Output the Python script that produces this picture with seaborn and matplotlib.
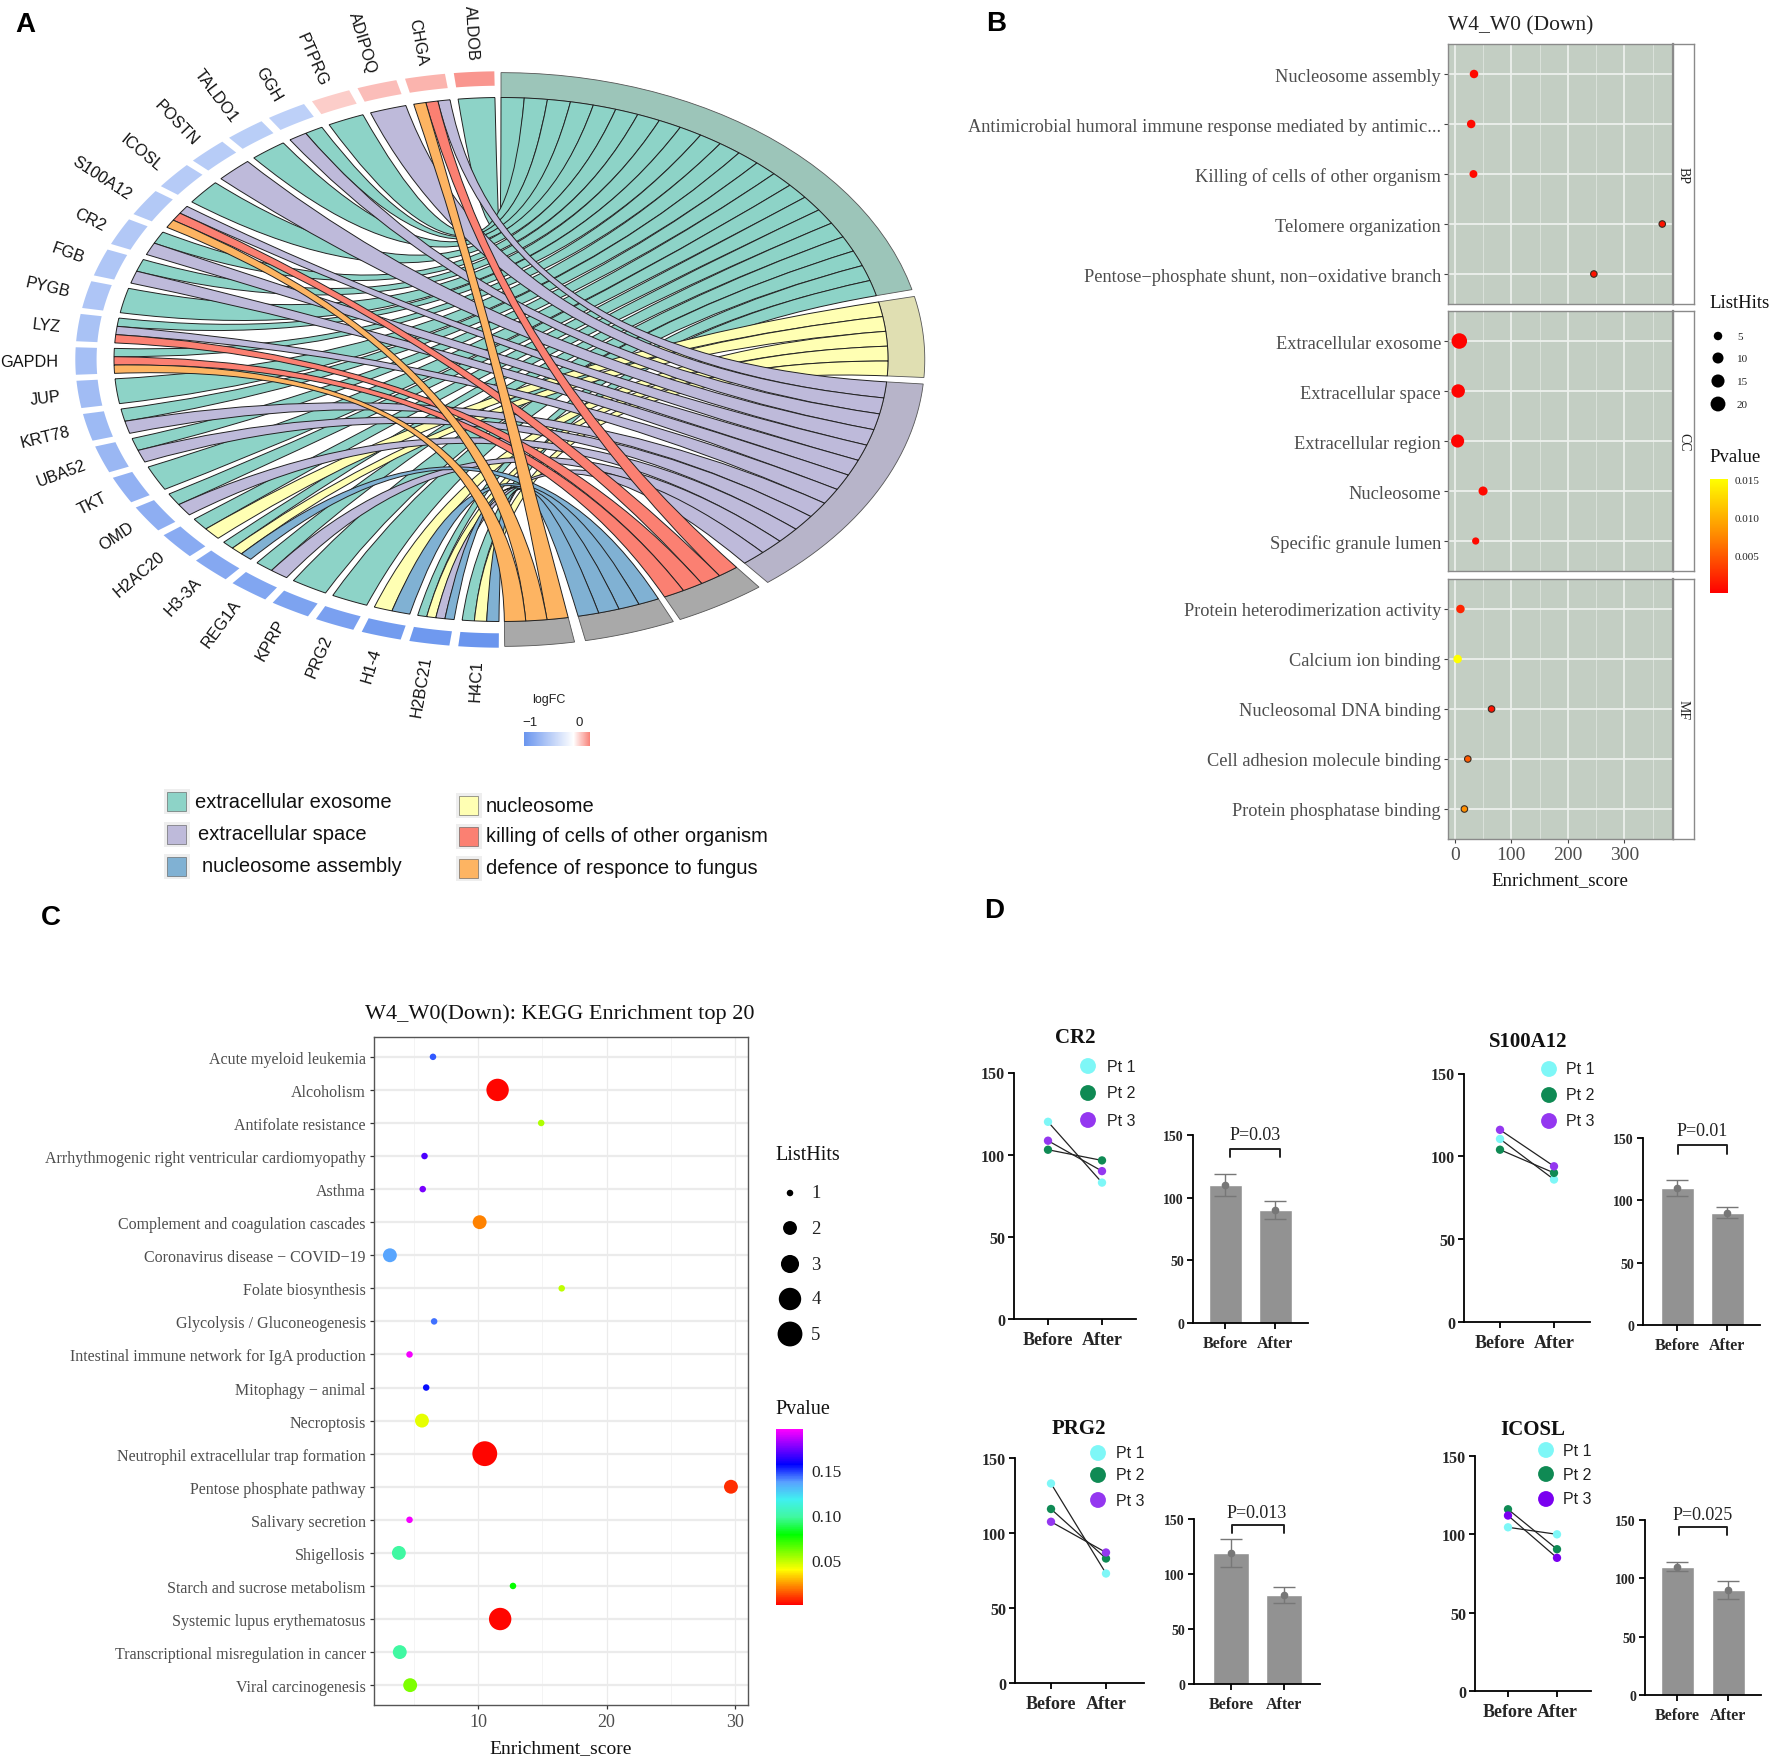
"""
Four panel enrichment figure: chord plot, GO and KEGG dot plots, before/after plots.
"""

import numpy as np
import pandas as pd
import matplotlib
matplotlib.use("Agg")
import matplotlib.pyplot as plt
import seaborn as sns
from matplotlib.cm import ScalarMappable
from matplotlib.colors import LinearSegmentedColormap, Normalize
from matplotlib.patches import PathPatch, Rectangle
from matplotlib.path import Path

W, H = 1772, 1765
SERIF = "Liberation Serif"
SANS = "Liberation Sans"

# panel A
GENES = ["ALDOB", "CHGA", "ADIPOQ", "PTPRG", "GGH", "TALDO1", "POSTN", "ICOSL", "S100A12",
         "CR2", "FGB", "PYGB", "LYZ", "GAPDH", "JUP", "KRT78", "UBA52", "TKT", "OMD",
         "H2AC20", "H3-3A", "REG1A", "KPRP", "PRG2", "H1-4", "H2BC21", "H4C1"]
GENE_LOGFC = [-0.04, -0.10, -0.12, -0.15, -0.58, -0.60, -0.61, -0.62, -0.63,
              -0.64, -0.65, -0.66, -0.68, -0.70, -0.72, -0.74, -0.76, -0.80, -0.82,
              -0.84, -0.86, -0.88, -0.90, -0.92, -0.95, -0.97, -1.00]
TERMS = ["extracellular exosome", "nucleosome", "extracellular space",
         "killing of cells of other organism", "nucleosome assembly",
         "defence of responce to fungus"]
TERM_COLORS = ["#8dd3c7", "#ffffb3", "#bebada", "#fb8072", "#80b1d3", "#fdb462"]
TERM_RING = ["#9cc5b9", "#e0dfb2", "#b7b4c9", "#a9a9a9", "#a9a9a9", "#a9a9a9"]
# ring sectors in degrees, the picture's ring is not strictly proportional
TERM_ARCS = [(90, 14.1), (12.7, -3.6), (-4.9, -51), (-52.5, -65), (-66, -78.5), (-80, -89.5)]
EXOSOME = ["ALDOB", "PTPRG", "GGH", "TALDO1", "ICOSL", "CR2", "FGB", "PYGB", "LYZ", "GAPDH",
           "JUP", "KRT78", "UBA52", "TKT", "OMD", "H2AC20", "H3-3A", "REG1A", "KPRP", "PRG2",
           "H2BC21", "H4C1"]
NUCLEOSOME = ["H2AC20", "H3-3A", "H1-4", "H2BC21", "H4C1"]
SPACE = ["CHGA", "ADIPOQ", "GGH", "POSTN", "S100A12", "CR2", "FGB", "LYZ", "KRT78", "UBA52",
         "OMD", "REG1A", "H2BC21"]
KILLING = ["CHGA", "S100A12", "LYZ", "GAPDH"]
ASSEMBLY = ["H3-3A", "H1-4", "H2BC21", "H4C1"]
FUNGUS = ["CHGA", "S100A12", "GAPDH"]
TERM_MEMBERS = [EXOSOME, NUCLEOSOME, SPACE, KILLING, ASSEMBLY, FUNGUS]

# panel B
GO_BP = ["Nucleosome assembly", "Antimicrobial humoral immune response mediated by antimic...",
         "Killing of cells of other organism", "Telomere organization",
         "Pentose\u2212phosphate shunt, non\u2212oxidative branch"]
GO_BP_SCORE = [34, 29, 33, 367, 246]
GO_BP_HITS = [5, 5, 4, 2, 2]
GO_BP_P = [0.0005, 0.0005, 0.0005, 0.001, 0.001]
GO_CC = ["Extracellular exosome", "Extracellular space", "Extracellular region",
         "Nucleosome", "Specific granule lumen"]
GO_CC_SCORE = [8, 6, 5, 50, 37]
GO_CC_HITS = [22, 16, 15, 6, 3]
GO_CC_P = [0.0002, 0.0002, 0.0002, 0.0005, 0.0005]
GO_MF = ["Protein heterodimerization activity", "Calcium ion binding", "Nucleosomal DNA binding",
         "Cell adhesion molecule binding", "Protein phosphatase binding"]
GO_MF_SCORE = [10, 5, 65, 23, 17]
GO_MF_HITS = [5, 5, 2, 2, 2]
GO_MF_P = [0.002, 0.015, 0.001, 0.005, 0.008]
GO_FACETS = ["BP", "CC", "MF"]

# panel C
KEGG = ["Acute myeloid leukemia", "Alcoholism", "Antifolate resistance",
        "Arrhythmogenic right ventricular cardiomyopathy", "Asthma",
        "Complement and coagulation cascades", "Coronavirus disease \u2212 COVID\u221219",
        "Folate biosynthesis", "Glycolysis / Gluconeogenesis",
        "Intestinal immune network for IgA production", "Mitophagy \u2212 animal", "Necroptosis",
        "Neutrophil extracellular trap formation", "Pentose phosphate pathway",
        "Salivary secretion", "Shigellosis", "Starch and sucrose metabolism",
        "Systemic lupus erythematosus", "Transcriptional misregulation in cancer",
        "Viral carcinogenesis"]
KEGG_SCORE = [6.46, 11.5, 14.9, 5.8, 5.66, 10.1, 3.1, 16.5, 6.55, 4.63,
              5.93, 5.6, 10.5, 29.7, 4.63, 3.8, 12.7, 11.7, 3.87, 4.68]
KEGG_HITS = [1, 4, 1, 1, 1, 2, 2, 1, 1, 1, 1, 2, 5, 2, 1, 2, 1, 4, 2, 2]
KEGG_P = [0.146, 0.001, 0.052, 0.168, 0.175, 0.02, 0.136, 0.049, 0.143, 0.194,
          0.155, 0.043, 0.001, 0.007, 0.194, 0.098, 0.078, 0.001, 0.098, 0.059]
RAINBOW = [(0.0, "#ff0000"), (0.2, "#ffff00"), (0.4, "#00ff00"), (0.5, "#40f8a0"),
           (0.6, "#40f0f0"), (0.7, "#5aa0ff"), (0.8, "#0000ff"), (0.9, "#8000ff"),
           (1.0, "#ff00ff")]

# panel D
TIMES = ["Before", "After"]
PATIENTS = ["Pt 1", "Pt 2", "Pt 3"]
PT_COLORS = ["#7ef7f7", "#0f8a54", "#9437f0"]
CR2_VALS = [[120, 83], [103, 96.5], [108.5, 90]]
S100A12_VALS = [[110.5, 86], [104, 90], [116, 94]]
PRG2_VALS = [[133, 73], [116, 83], [107.5, 87]]
ICOSL_VALS = [[104.5, 100], [116, 90.5], [112, 85]]
CR2_BAR, CR2_ERR = [110, 90], [8.5, 7]
S100A12_BAR, S100A12_ERR = [110, 90], [6.5, 4.5]
PRG2_BAR, PRG2_ERR = [119, 81], [13, 7.5]
ICOSL_BAR, ICOSL_ERR = [110, 90], [4, 8]

sns.set_theme(style="white")
plt.rcParams["font.family"] = [SERIF, "DejaVu Serif"]
plt.rcParams["axes.unicode_minus"] = False

fig = plt.figure(figsize=(W / 100, H / 100), dpi=100, facecolor="white")


def px_axes(x0, y0, x1, y1, **kw):
    return fig.add_axes([x0 / W, 1 - y1 / H, (x1 - x0) / W, (y1 - y0) / H], **kw)


overlay = px_axes(0, 0, W, H, zorder=20)
overlay.set_xlim(0, W)
overlay.set_ylim(H, 0)
overlay.axis("off")
overlay.patch.set_alpha(0)


def label(x, y, s, size=12, family=SERIF, ha="left", **kw):
    kw.setdefault("va", "center")
    overlay.text(x, y, s, fontsize=size, family=family, ha=ha, **kw)


def draw_chord():
    cx, cy, rx, ry = 501, 360.5, 387, 262
    ax = px_axes(0, 0, 960, 790)
    ax.set_xlim(-cx / rx, (960 - cx) / rx)
    ax.set_ylim((cy - 790) / ry, cy / ry)
    ax.axis("off")

    def pt(deg, r=1.0):
        t = np.deg2rad(deg)
        return r * np.cos(t), r * np.sin(t)

    def arc(a, b, r=1.0, n=30):
        return [pt(d, r) for d in np.linspace(a, b, n)]

    def band(a, b, r0, r1, **kw):
        verts = arc(a, b, r1) + arc(b, a, r0)
        ax.add_patch(plt.Polygon(verts, closed=True, **kw))

    fc_cmap = LinearSegmentedColormap.from_list(
        "fc", [(0, "#6a95ee"), (0.75, "#ffffff"), (1, "#f8837a")])
    norm = Normalize(-1, 0)

    # gene side: equal width for every gene, left half
    n_genes = len(GENES)
    pitch = 180 / n_genes
    gap = 1.2
    starts = {}
    for i, g in enumerate(GENES):
        a0 = 90.9 + i * pitch
        a1 = a0 + pitch - gap
        starts[g] = (a0, a1)
        band(a0, a1, 1.045, 1.10, fc=fc_cmap(norm(GENE_LOGFC[i])), ec="none")
        mid = (a0 + a1) / 2
        lx, ly = pt(mid, 1.145)
        ax.text(lx, ly, g, rotation=mid - 180, rotation_mode="anchor",
                ha="right", va="center", fontsize=11.7, family=SANS, color="#111111",
                clip_on=False)

    # how many terms on each gene, gives the slices of its segment
    gene_terms = {g: [t for t, m in enumerate(TERM_MEMBERS) if g in m] for g in GENES}

    for t, members in enumerate(TERM_MEMBERS):
        start, end = TERM_ARCS[t]
        per = (start - end) / len(members)
        band(start, end, 1.0, 1.095, fc=TERM_RING[t], ec="#555555", lw=0.6)
        for k, g in enumerate([x for x in GENES if x in members]):
            t0 = start - k * per
            t1 = t0 - per
            a0, a1 = starts[g]
            order = gene_terms[g].index(t)
            step = (a1 - a0) / len(gene_terms[g])
            g0 = a0 + order * step
            g1 = g0 + step
            verts = arc(g0, g1)
            codes = [Path.MOVETO] + [Path.LINETO] * (len(verts) - 1)
            verts = verts + [(0, 0), pt(t1)]
            codes = codes + [Path.CURVE3, Path.CURVE3]
            back = arc(t1, t0)[1:]
            verts = verts + back
            codes = codes + [Path.LINETO] * len(back)
            verts = verts + [(0, 0), pt(g0)]
            codes = codes + [Path.CURVE3, Path.CURVE3]
            ax.add_patch(PathPatch(Path(verts, codes), fc=TERM_COLORS[t], ec="#222222",
                                   lw=0.7, zorder=2 + t * 0.1))

    # logFC key
    cax = px_axes(524, 733, 590, 747)
    cb = fig.colorbar(ScalarMappable(norm, fc_cmap), cax=cax, orientation="horizontal")
    cb.outline.set_visible(False)
    cb.set_ticks([])
    label(549, 700, "logFC", 9, SANS, ha="center", color="#222222")
    label(530, 723, "\u22121", 9.5, SANS, ha="center", color="#222222")
    label(579, 723, "0", 9.5, SANS, ha="center", color="#222222")

    # term key
    rows = [(167, 802, 195, 0), (167, 835, 198, 2), (167, 867, 202, 4),
            (459, 806, 486, 1), (459, 837, 486, 3), (459, 869, 486, 5)]
    for sx, sy, tx, t in rows:
        overlay.add_patch(Rectangle((sx - 3, sy - 12), 26, 25, fc="#eeeeee", ec="none"))
        overlay.add_patch(Rectangle((sx, sy - 9), 19, 19, fc=TERM_COLORS[t], ec="#555555", lw=0.4))
        label(tx, sy, TERMS[t], 14.5, SANS, color="#111111")


def draw_go():
    cmap = LinearSegmentedColormap.from_list("ry", ["#ff0000", "#ff8800", "#ffff00"])
    p_norm = (0.0, 0.015)
    sizes, s_norm = (22, 125), (2, 22)
    boxes = [(45, 305), (312, 572), (580, 840)]
    groups = [(GO_BP, GO_BP_SCORE, GO_BP_HITS, GO_BP_P),
              (GO_CC, GO_CC_SCORE, GO_CC_HITS, GO_CC_P),
              (GO_MF, GO_MF_SCORE, GO_MF_HITS, GO_MF_P)]
    for i, (terms, score, hits, pv) in enumerate(groups):
        y0, y1 = boxes[i]
        ax = px_axes(1448, y0, 1673, y1)
        df = pd.DataFrame({"term": terms, "score": score, "hits": hits, "p": pv})
        big = df[df["hits"] > 2]
        small = df[df["hits"] <= 2]
        ax.set_facecolor("#c3cec3")
        sns.scatterplot(data=big, x="score", y="term", hue="p", hue_norm=p_norm, palette=cmap,
                        size="hits", sizes=sizes, size_norm=s_norm, linewidth=0, legend=False,
                        ax=ax, zorder=3)
        sns.scatterplot(data=small, x="score", y="term", hue="p", hue_norm=p_norm, palette=cmap,
                        size="hits", sizes=sizes, size_norm=s_norm, edgecolor="#3a2a20",
                        linewidth=0.8, legend=False, ax=ax, zorder=3)
        ax.set_yticks(range(len(terms)))
        ax.set_yticklabels(terms)
        ax.set_ylim(len(terms) - 0.4, -0.6)
        ax.set_xlim(-12, 386)
        ax.set_xticks([0, 100, 200, 300])
        ax.set_xticks([50, 150, 250, 350], minor=True)
        ax.set_axisbelow(True)
        ax.grid(True, which="major", color="#ecf0ec", lw=1.3)
        ax.grid(True, which="minor", axis="x", color="#dfe5df", lw=0.6)
        ax.set_xlabel("")
        ax.set_ylabel("")
        ax.tick_params(axis="y", left=True, length=3, width=0.8, color="#444444", pad=2,
                       labelsize=13.2, labelcolor="#4d4d4d")
        ax.tick_params(axis="x", which="major", bottom=i == 2, labelbottom=i == 2, length=3,
                       width=0.8, color="#444444", pad=2, labelsize=14, labelcolor="#4d4d4d")
        ax.tick_params(axis="x", which="minor", bottom=False)
        for s in ax.spines.values():
            s.set_color("#8a8a8a")
            s.set_linewidth(1.0)
        ax.spines["right"].set_linewidth(1.6)
        strip = px_axes(1673, y0, 1694, y1)
        strip.set_xticks([])
        strip.set_yticks([])
        strip.set_facecolor("white")
        for s in strip.spines.values():
            s.set_color("#8a8a8a")
            s.set_linewidth(1.0)
        strip.text(0.5, 0.5, GO_FACETS[i], rotation=-90, ha="center", va="center",
                   transform=strip.transAxes, fontsize=10, color="#222222")

    label(1448, 26, "W4_W0 (Down)", 15.5, color="#222222")
    label(1560, 881, "Enrichment_score", 13.5, ha="center", color="#111111")
    label(1709, 303, "ListHits", 13.5, color="#111111")
    levels = pd.DataFrame({"x": [1718] * 4, "y": [337, 359, 382, 405], "hits": [5, 10, 15, 20]})
    sns.scatterplot(data=levels, x="x", y="y", size="hits", sizes=sizes, size_norm=s_norm,
                    color="black", linewidth=0, legend=False, ax=overlay)
    for y, h in zip(levels["y"], levels["hits"]):
        label(1737, y, str(h), 8, color="#222222")
    label(1709, 457, "Pvalue", 13.5, color="#111111")
    cax = px_axes(1710, 480, 1728, 594)
    cb = fig.colorbar(ScalarMappable(Normalize(*p_norm), cmap), cax=cax)
    cb.outline.set_visible(False)
    cb.set_ticks([0.005, 0.010, 0.015], labels=["0.005", "0.010", "0.015"])
    cb.ax.tick_params(length=0, labelsize=8, pad=5, labelcolor="#222222")


def draw_kegg():
    cmap = LinearSegmentedColormap.from_list("rb", RAINBOW)
    p_norm = (0.0, 0.196)
    sizes = {1: 22, 2: 100, 3: 170, 4: 260, 5: 320}
    df = pd.DataFrame({"term": KEGG, "score": KEGG_SCORE, "hits": KEGG_HITS, "p": KEGG_P})
    ax = px_axes(374, 1038, 748, 1706)
    sns.scatterplot(data=df, x="score", y="term", hue="p", hue_norm=p_norm, palette=cmap,
                    size="hits", sizes=sizes, linewidth=0, legend=False, ax=ax, zorder=3)
    ax.set_yticks(range(len(KEGG)))
    ax.set_yticklabels(KEGG)
    ax.set_ylim(len(KEGG) - 0.4, -0.6)
    ax.set_xlim(1.86, 31.03)
    ax.set_xticks([10, 20, 30])
    ax.set_xticks([5, 15, 25], minor=True)
    ax.set_axisbelow(True)
    ax.grid(True, which="major", axis="y", color="#ebebeb", lw=1.6)
    ax.grid(True, which="major", axis="x", color="#ebebeb", lw=0.9)
    ax.grid(True, which="minor", axis="x", color="#f2f2f2", lw=0.6)
    ax.set_xlabel("")
    ax.set_ylabel("")
    ax.tick_params(axis="y", left=True, length=3, width=0.9, color="#333333", pad=3,
                   labelsize=11.5, labelcolor="#4d4d4d")
    ax.tick_params(axis="x", which="major", bottom=True, length=3, width=0.9, color="#333333",
                   pad=3, labelsize=13, labelcolor="#4d4d4d")
    ax.tick_params(axis="x", which="minor", bottom=False)
    for s in ax.spines.values():
        s.set_color("#555555")
        s.set_linewidth(1.0)

    label(560, 1014, "W4_W0(Down): KEGG Enrichment top 20", 16, ha="center", color="#111111")
    label(561, 1749, "Enrichment_score", 14, ha="center", color="#111111")
    label(775, 1155, "ListHits", 14.5, color="#111111")
    levels = pd.DataFrame({"x": [790] * 5, "y": [1194, 1229, 1265, 1300, 1335], "hits": [1, 2, 3, 4, 5]})
    sns.scatterplot(data=levels, x="x", y="y", size="hits", sizes=sizes, color="black",
                    linewidth=0, legend=False, ax=overlay)
    for y, h in zip(levels["y"], levels["hits"]):
        label(816, y, str(h), 13.5, ha="center", color="#222222")
    label(775, 1409, "Pvalue", 14.5, color="#111111")
    cax = px_axes(776, 1430, 803, 1606)
    cb = fig.colorbar(ScalarMappable(Normalize(*p_norm), cmap), cax=cax)
    cb.outline.set_visible(False)
    cb.set_ticks([0.05, 0.10, 0.15], labels=["0.05", "0.10", "0.15"])
    cb.ax.tick_params(length=5, width=0.7, color="white", direction="in", labelsize=12.5, pad=6,
                      labelcolor="#222222")


def style_pair_axis(ax, labelsize, timesize):
    ax.set_ylim(0, 150)
    ax.set_yticks([0, 50, 100, 150])
    ax.set_xlabel("")
    ax.set_ylabel("")
    sns.despine(ax=ax)
    ax.set_facecolor("none")
    for side in ("left", "bottom"):
        ax.spines[side].set_color("black")
        ax.spines[side].set_linewidth(1.3)
    ax.tick_params(axis="y", left=True, length=4.5, width=1.3, color="black", pad=2)
    ax.tick_params(axis="x", bottom=True, length=4.5, width=1.3, color="black", pad=4)
    for t in ax.get_yticklabels():
        t.set_fontsize(labelsize)
        t.set_fontweight("bold")
    ax.set_xticks([0, 1])
    ax.set_xticklabels(TIMES, fontsize=timesize, fontweight="bold")


def pair_panel(gene, vals, box, centers, title, key, colors=PT_COLORS):
    x0, y150, x1, y0 = box
    ax = px_axes(x0, y150, x1, y0)
    rows = [(p, i, vals[k][i]) for k, p in enumerate(PATIENTS) for i in range(2)]
    df = pd.DataFrame(rows, columns=["patient", "time", "value"])
    sns.lineplot(data=df, x="time", y="value", units="patient", estimator=None, color="#222222",
                 lw=0.9, ax=ax)
    sns.scatterplot(data=df, x="time", y="value", hue="patient", palette=colors, s=36,
                    linewidth=0, legend=False, ax=ax, zorder=3)
    step = centers[1] - centers[0]
    ax.set_xlim((x0 - centers[0]) / step, (x1 - centers[0]) / step)
    style_pair_axis(ax, 11.5, 13)
    label(title[0], title[1], gene, 15, ha="center", fontweight="bold", color="#111111")
    kx, tx, ys = key
    overlay.scatter([kx] * 3, ys, s=130, c=colors, linewidths=0)
    for y, p in zip(ys, PATIENTS):
        label(tx, y, p, 11.5, SANS, color="#222222")


def bar_panel(means, errs, box, centers, bar_w, ptext, bracket):
    x0, y150, x1, y0 = box
    ax = px_axes(x0, y150, x1, y0)
    df = pd.DataFrame({"time": [0, 1], "value": means})
    step = centers[1] - centers[0]
    sns.barplot(data=df, x="time", y="value", color="#929292", saturation=1, width=bar_w / step,
                native_scale=True, ax=ax)
    ax.errorbar([0, 1], means, yerr=errs, fmt="o", ms=4.5, color="#777777", ecolor="#777777",
                elinewidth=1.0, capsize=8, capthick=1.0, zorder=4)
    ax.set_xlim((x0 - centers[0]) / step, (x1 - centers[0]) / step)
    style_pair_axis(ax, 10, 11.5)
    label(ptext[0], ptext[1], ptext[2], 13, ha="center", color="#222222")
    bx0, bx1, by0, by1 = bracket
    overlay.plot([bx0, bx0, bx1, bx1], [by1, by0, by0, by1], color="#222222", lw=1.4)


def draw_pairs():
    pair_panel("CR2", CR2_VALS, (1014, 1073.5, 1136, 1320), (1048, 1102), (1075, 1038),
               (1088, 1107, [1067, 1094, 1121]))
    bar_panel(CR2_BAR, CR2_ERR, (1193, 1136, 1308, 1324), (1225, 1275), 33,
              (1255, 1135, "P=0.03"), (1230, 1280, 1150, 1158))
    pair_panel("S100A12", S100A12_VALS, (1464, 1074.5, 1590, 1323), (1500, 1554), (1528, 1042),
               (1549, 1566, [1070, 1096, 1122]))
    bar_panel(S100A12_BAR, S100A12_ERR, (1643, 1139, 1760, 1326), (1677, 1727), 33,
              (1702, 1131, "P=0.01"), (1678, 1727, 1146, 1155))
    pair_panel("PRG2", PRG2_VALS, (1015, 1459, 1144, 1684), (1051, 1106), (1079, 1429),
               (1098, 1116, [1454, 1476, 1501]))
    bar_panel(PRG2_BAR, PRG2_ERR, (1194, 1520, 1320, 1685), (1231, 1284), 36,
              (1257, 1513, "P=0.013"), (1232, 1284, 1526, 1534))
    icosl_colors = PT_COLORS[:2] + ["#7a00f0"]
    pair_panel("ICOSL", ICOSL_VALS, (1475, 1457, 1591, 1692), (1508, 1557), (1533, 1430),
               (1546, 1563, [1451, 1475, 1500]), colors=icosl_colors)
    bar_panel(ICOSL_BAR, ICOSL_ERR, (1645, 1521, 1761, 1696), (1677, 1728), 33,
              (1703, 1515, "P=0.025"), (1679, 1727, 1528, 1536))


if __name__ == "__main__":
    draw_chord()
    draw_go()
    draw_kegg()
    draw_pairs()
    for x, y, s in [(25, 25, "A"), (996, 24, "B"), (51, 918, "C"), (994, 911, "D")]:
        label(x, y, s, 20, SANS, ha="center", fontweight="bold", color="black")
    overlay.set_xlim(0, W)
    overlay.set_ylim(H, 0)
    overlay.axis("off")
    fig.savefig("out.png", dpi=100)
    plt.close()
